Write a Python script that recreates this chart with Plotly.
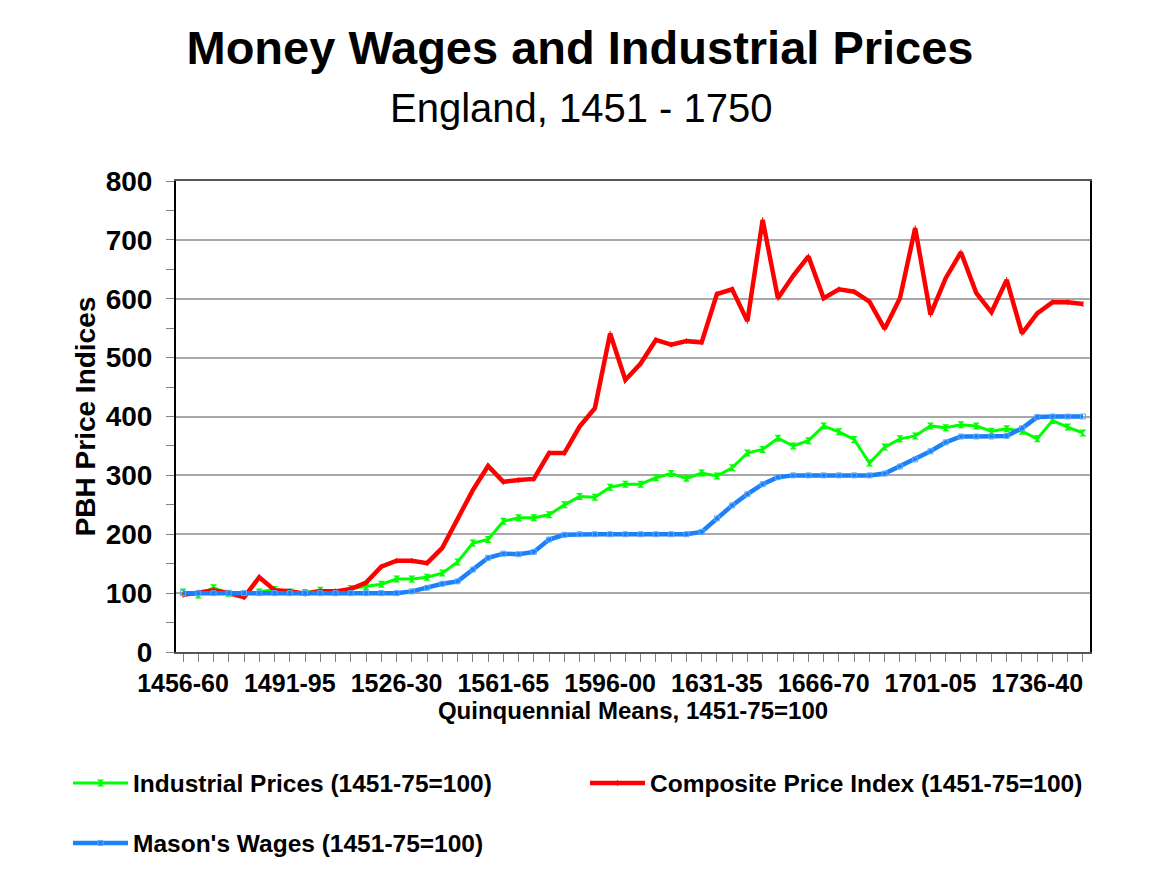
import plotly.graph_objects as go

periods = [
    "1456-60", "1461-65", "1466-70", "1471-75", "1476-80", "1481-85", "1486-90",
    "1491-95", "1496-00", "1501-05", "1506-10", "1511-15", "1516-20", "1521-25",
    "1526-30", "1531-35", "1536-40", "1541-45", "1546-50", "1551-55", "1556-60",
    "1561-65", "1566-70", "1571-75", "1576-80", "1581-85", "1586-90", "1591-95",
    "1596-00", "1601-05", "1606-10", "1611-15", "1616-20", "1621-25", "1626-30",
    "1631-35", "1636-40", "1641-45", "1646-50", "1651-55", "1656-60", "1661-65",
    "1666-70", "1671-75", "1676-80", "1681-85", "1686-90", "1691-95", "1696-00",
    "1701-05", "1706-10", "1711-15", "1716-20", "1721-25", "1726-30", "1731-35",
    "1736-40", "1741-45", "1746-50", "1751-55",
]

labelled_periods = ["1456-60", "1491-95", "1526-30", "1561-65", "1596-00",
                    "1631-35", "1666-70", "1701-05", "1736-40"]

industrial_prices = [
    102, 97, 109, 100, 98, 102, 106, 102, 101, 105,
    101, 108, 111, 115, 124, 124, 127, 134, 153, 185,
    191, 222, 228, 228, 233, 250, 264, 263, 280, 285,
    285, 296, 303, 295, 304, 299, 313, 338, 344, 363,
    350, 359, 384, 374, 361, 321, 348, 362, 367, 384,
    381, 386, 384, 375, 379, 375, 362, 393, 382, 372,
]

composite_price_index = [
    97, 101, 105, 100, 93, 127, 105, 103, 99, 103,
    103, 107, 118, 145, 155, 155, 151, 177, 228, 275,
    316, 289, 292, 294, 338, 338, 383, 414, 541, 462,
    490, 530, 522, 528, 526, 608, 616, 562, 734, 601,
    639, 672, 601, 616, 612, 595, 549, 601, 720, 573,
    635, 679, 610, 577, 632, 541, 575, 594, 594, 591,
]

masons_wages = [
    100, 100, 100, 100, 100, 100, 100, 100, 100, 100,
    100, 100, 100, 100, 100, 103, 109, 116, 120, 140,
    160, 167, 166, 170, 191, 199, 200, 200, 200, 200,
    200, 200, 200, 200, 204, 227, 249, 268, 285, 297,
    300, 300, 300, 300, 300, 300, 303, 315, 327, 341,
    356, 366, 366, 366, 367, 380, 399, 400, 400, 400,
]

FONT = "Arial, Liberation Sans, sans-serif"
GREEN = "#00FF00"
RED = "#FF0000"
BLUE = "#1C80F8"

tick_text = [p if p in labelled_periods else "" for p in periods]

# page body margin offsets the figure by 8px; work in screen coordinates
OFF = 8
SW, SH = 1151, 890
W, H = SW - OFF, SH - OFF
PL, PR, PT, PB = 176, 1090, 181, 652  # plot area in screen px
L, T = PL - OFF, PT - OFF
R = W - (PR - OFF)
B = H - (PB - OFF)
pw = PR - PL
ph = PB - PT

def px_x(sx):
    return (sx - PL) / pw

def px_y(sy):
    return (PB - sy) / ph

fig = go.Figure()
fig.add_trace(go.Scatter(
    x=periods, y=industrial_prices, mode="lines+markers",
    name="Industrial Prices (1451-75=100)",
    line=dict(color=GREEN, width=3),
    marker=dict(symbol="hourglass", size=7, color=GREEN),
    legend="legend",
))
fig.add_trace(go.Scatter(
    x=periods, y=composite_price_index, mode="lines+markers",
    name="Composite Price Index (1451-75=100)",
    line=dict(color=RED, width=4.5),
    marker=dict(symbol="line-ns", size=4, line=dict(color=RED, width=1)),
    legend="legend2",
))
fig.add_trace(go.Scatter(
    x=periods, y=masons_wages, mode="lines+markers",
    name="Mason's Wages (1451-75=100)",
    line=dict(color=BLUE, width=4.5),
    marker=dict(symbol="square-open", size=5, color="#5AA8FF", line=dict(width=1)),
    legend="legend3",
))

LEG_FONT = dict(family=FONT, size=24.5, weight="bold", color="black")

def leg(sx, sy):
    return dict(
        orientation="h", x=px_x(sx), y=px_y(sy), xanchor="left", yanchor="middle",
        font=LEG_FONT, bgcolor="rgba(0,0,0,0)", itemwidth=55,
    )

fig.update_layout(
    width=W, height=H,
    margin=dict(l=L, r=R, t=T, b=B),
    paper_bgcolor="white", plot_bgcolor="white",
    font=dict(family=FONT, color="black"),
    title=dict(
        text="Money Wages and Industrial Prices",
        font=dict(family=FONT, size=47, weight="bold", color="black"),
        x=(580 - OFF) / W, xanchor="center", xref="container",
        y=1 - (48 - OFF) / H, yanchor="middle", yref="container",
    ),
    annotations=[dict(
        text="England, 1451 - 1750", showarrow=False,
        xref="paper", yref="paper", x=px_x(581), y=px_y(108),
        xanchor="center", yanchor="middle",
        font=dict(family=FONT, size=40, color="black"),
    )],
    xaxis=dict(
        type="category",
        range=[-0.46, len(periods) - 0.54],
        tickmode="array", tickvals=periods, ticktext=tick_text,
        ticks="outside", ticklen=8, tickcolor="#808080", tickwidth=1,
        tickangle=0,
        tickfont=dict(family=FONT, size=25, weight="bold", color="black"),
        showline=True, linecolor="#555555", linewidth=2, mirror=True,
        showgrid=False, zeroline=False,
        title=dict(text="Quinquennial Means, 1451-75=100",
                   font=dict(family=FONT, size=24, weight="bold", color="black"),
                   standoff=4),
    ),
    yaxis=dict(
        range=[0, 800], dtick=100, tick0=0,
        ticks="outside", ticklen=8, tickcolor="#808080", tickwidth=1,
        ticklabelstandoff=8,
        minor=dict(dtick=50, ticks="outside", ticklen=8, tickcolor="#808080", showgrid=False),
        tickfont=dict(family=FONT, size=28, weight="bold", color="black"),
        showline=True, linecolor="black", linewidth=2, mirror=True,
        showgrid=True, gridcolor="#A8A8A8", gridwidth=2,
        zeroline=False,
        title=dict(text="PBH Price Indices",
                   font=dict(family=FONT, size=28, weight="bold", color="black"),
                   standoff=2),
    ),
    legend=leg(68, 783),
    legend2=leg(585, 783),
    legend3=leg(68, 843),
    showlegend=True,
)

fig.write_html("out.html")
